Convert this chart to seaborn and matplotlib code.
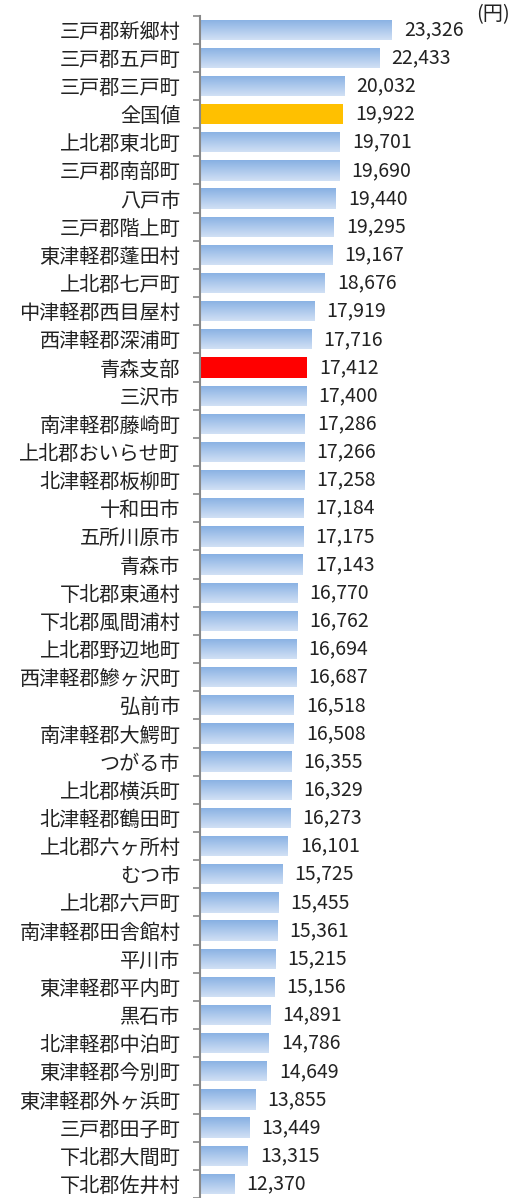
import numpy as np
import pandas as pd
import matplotlib
matplotlib.use("Agg")
import matplotlib.pyplot as plt
import seaborn as sns

categories = [
    "三戸郡新郷村", "三戸郡五戸町", "三戸郡三戸町", "全国値", "上北郡東北町",
    "三戸郡南部町", "八戸市", "三戸郡階上町", "東津軽郡蓬田村", "上北郡七戸町",
    "中津軽郡西目屋村", "西津軽郡深浦町", "青森支部", "三沢市", "南津軽郡藤崎町",
    "上北郡おいらせ町", "北津軽郡板柳町", "十和田市", "五所川原市", "青森市",
    "下北郡東通村", "下北郡風間浦村", "上北郡野辺地町", "西津軽郡鰺ヶ沢町", "弘前市",
    "南津軽郡大鰐町", "つがる市", "上北郡横浜町", "北津軽郡鶴田町", "上北郡六ヶ所村",
    "むつ市", "上北郡六戸町", "南津軽郡田舎館村", "平川市", "東津軽郡平内町",
    "黒石市", "北津軽郡中泊町", "東津軽郡今別町", "東津軽郡外ヶ浜町", "三戸郡田子町",
    "下北郡大間町", "下北郡佐井村",
]
values = [
    23326, 22433, 20032, 19922, 19701,
    19690, 19440, 19295, 19167, 18676,
    17919, 17716, 17412, 17400, 17286,
    17266, 17258, 17184, 17175, 17143,
    16770, 16762, 16694, 16687, 16518,
    16508, 16355, 16329, 16273, 16101,
    15725, 15455, 15361, 15215, 15156,
    14891, 14786, 14649, 13855, 13449,
    13315, 12370,
]
highlight = {"全国値": "#FFC000", "青森支部": "#FF0000"}
unit_label = "(円)"

sns.set_theme(style="white")
plt.rcParams["font.family"] = ["Noto Sans CJK JP", "DejaVu Sans"]

df = pd.DataFrame({"area": categories, "cost": values})

fig = plt.figure(figsize=(5.19, 11.98), dpi=100)
ax = fig.add_axes([0.385, 0.0, 0.555, 0.987])

x0 = 10000
sns.barplot(data=df, y="area", x="cost", orient="h", ax=ax,
            color="#8DB3E2", width=0.72, saturation=1, edgecolor="none")

# bars start at the axis origin (10,000), with a vertical gradient fill
grad = np.linspace(0, 1, 64).reshape(-1, 1)
top = np.array([0.53, 0.69, 0.89])
bottom = np.array([0.82, 0.88, 0.96])
grad_img = top + (bottom - top) * grad[..., None] * np.ones((1, 1, 3))
for patch, name, v in zip(ax.patches, categories, values):
    patch.set_x(x0)
    patch.set_width(v - x0)
    if name in highlight:
        patch.set_facecolor(highlight[name])
        continue
    y, h = patch.get_y(), patch.get_height()
    img = ax.imshow(grad_img, extent=(x0, v, y + h, y), aspect="auto",
                    origin="upper", zorder=patch.get_zorder() + 0.1,
                    interpolation="bilinear")
    img.set_clip_path(patch)

ax.set_xlim(x0, 30000)
ax.set_ylim(len(categories) - 0.5, -0.5)
for patch, v in zip(ax.patches, values):
    ax.text(v + 850, patch.get_y() + patch.get_height() / 2, f"{v:,}",
            va="center", ha="left", fontsize=14, color="#222222")

ax.set_xlabel("")
ax.set_ylabel("")
ax.set_xticks([])
ax.set_yticks(np.arange(len(categories)))
ax.set_yticklabels(categories, fontsize=14.5, color="#222222")
ax.set_yticks(np.arange(len(categories) + 1) - 0.5, minor=True)
ax.tick_params(axis="y", which="major", length=0, pad=14)
ax.tick_params(axis="y", which="minor", length=5, width=1.2, color="#888888",
               direction="out", left=True)
for side in ["top", "right", "bottom"]:
    ax.spines[side].set_visible(False)
ax.spines["left"].set_color("#888888")
ax.spines["left"].set_linewidth(1.5)

fig.text(0.918, 0.988, unit_label, fontsize=14.5, color="#222222",
         ha="left", va="center")

fig.savefig("out.png", dpi=100)
